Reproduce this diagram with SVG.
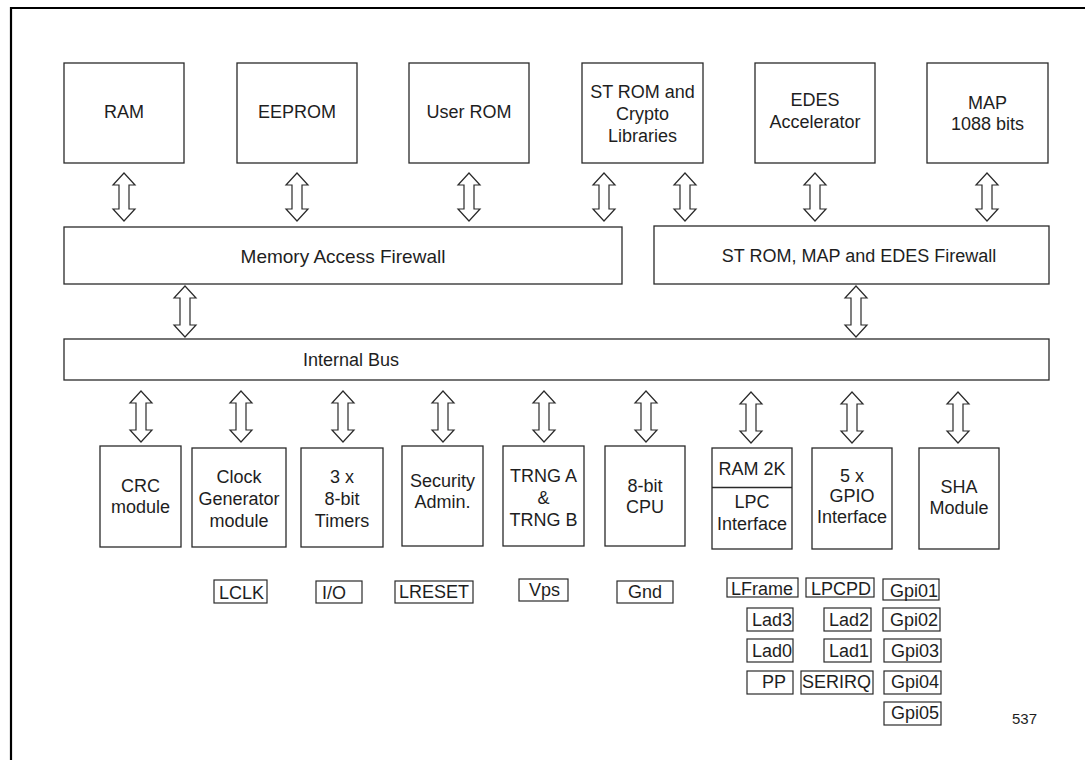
<svg xmlns="http://www.w3.org/2000/svg" width="1085" height="760" viewBox="0 0 1085 760">
<style>
.frame{fill:none;stroke:#000;stroke-width:2.2}
.box{fill:#fff;stroke:#2a2a2a;stroke-width:1.3}
.pin{fill:#fff;stroke:#2a2a2a;stroke-width:1.2}
.arr{fill:#fff;stroke:#2a2a2a;stroke-width:1.2;stroke-linejoin:miter}
text{font-family:"Liberation Sans",Arial,Helvetica,sans-serif;font-size:18px;fill:#1e1e1e}
.c{text-anchor:middle}
.small{font-size:15px}
</style>
<path class="frame" d="M11,760 V8 H1085"/>

<g id="ram"><rect class="box" x="64" y="63" width="120" height="100"/><text class="c" x="124" y="118">RAM</text></g>
<g id="eeprom"><rect class="box" x="237" y="63" width="120" height="100"/><text class="c" x="297" y="118">EEPROM</text></g>
<g id="userrom"><rect class="box" x="409" y="63" width="120" height="100"/><text class="c" x="469" y="118">User ROM</text></g>
<g id="strom"><rect class="box" x="582" y="63" width="121" height="100"/><text class="c" x="642.5" y="98">ST ROM and</text><text class="c" x="642.5" y="120">Crypto</text><text class="c" x="642.5" y="142">Libraries</text></g>
<g id="edes"><rect class="box" x="755" y="63" width="120" height="100"/><text class="c" x="815" y="106">EDES</text><text class="c" x="815" y="128">Accelerator</text></g>
<g id="map"><rect class="box" x="927" y="63" width="121" height="100"/><text class="c" x="987.5" y="109">MAP</text><text class="c" x="987.5" y="130">1088 bits</text></g>

<g id="maf"><rect class="box" x="64" y="227" width="558" height="57"/><text class="c" x="343" y="263" style="font-size:19px">Memory Access Firewall</text></g>
<g id="srf"><rect class="box" x="654" y="226" width="395" height="58"/><text class="c" x="859" y="262">ST ROM, MAP and EDES Firewall</text></g>
<g id="bus"><rect class="box" x="64" y="339" width="985" height="41"/><text x="303" y="366">Internal Bus</text></g>

<g id="crc"><rect class="box" x="100" y="446" width="81" height="101"/><text class="c" x="140.5" y="492">CRC</text><text class="c" x="140.5" y="513">module</text></g>
<g id="clock"><rect class="box" x="192" y="448" width="94" height="99"/><text class="c" x="239" y="483">Clock</text><text class="c" x="239" y="505">Generator</text><text class="c" x="239" y="527">module</text></g>
<g id="timers"><rect class="box" x="301" y="448" width="82" height="99"/><text class="c" x="342" y="483">3 x</text><text class="c" x="342" y="505">8-bit</text><text class="c" x="342" y="527">Timers</text></g>
<g id="security"><rect class="box" x="402" y="446" width="81" height="100"/><text class="c" x="442.5" y="487">Security</text><text class="c" x="442.5" y="508">Admin.</text></g>
<g id="trng"><rect class="box" x="503" y="446" width="81" height="100"/><text class="c" x="543.5" y="482">TRNG A</text><text class="c" x="543.5" y="504">&amp;</text><text class="c" x="543.5" y="526">TRNG B</text></g>
<g id="cpu"><rect class="box" x="605" y="446" width="80" height="100"/><text class="c" x="645" y="492">8-bit</text><text class="c" x="645" y="513">CPU</text></g>
<g id="lpc"><rect class="box" x="712" y="448" width="80" height="101"/><line x1="712" y1="487.5" x2="792" y2="487.5" stroke="#2a2a2a" stroke-width="1.3"/><text class="c" x="752" y="475">RAM 2K</text><text class="c" x="752" y="508">LPC</text><text class="c" x="752" y="530">Interface</text></g>
<g id="gpio"><rect class="box" x="812" y="448" width="80" height="101"/><text class="c" x="852" y="482">5 x</text><text class="c" x="852" y="502">GPIO</text><text class="c" x="852" y="523">Interface</text></g>
<g id="sha"><rect class="box" x="919" y="448" width="80" height="101"/><text class="c" x="959" y="493">SHA</text><text class="c" x="959" y="514">Module</text></g>

<g id="pins">
<rect class="pin" x="214" y="580" width="53" height="23"/><text x="219" y="599">LCLK</text>
<rect class="pin" x="316" y="581" width="46" height="22"/><text x="322" y="599">I/O</text>
<rect class="pin" x="395" y="581" width="78" height="22"/><text x="399" y="598">LRESET</text>
<rect class="pin" x="519" y="579" width="49" height="22"/><text x="529" y="596">Vps</text>
<rect class="pin" x="617" y="581" width="56" height="22"/><text x="628" y="598">Gnd</text>
<rect class="pin" x="727" y="578" width="71" height="19"/><text x="731" y="595">LFrame</text>
<rect class="pin" x="806" y="578" width="68" height="19"/><text x="811" y="595">LPCPD</text>
<rect class="pin" x="883" y="579" width="56" height="21"/><text x="890" y="597">Gpi01</text>
<rect class="pin" x="747" y="608" width="46" height="23"/><text x="752" y="626">Lad3</text>
<rect class="pin" x="824" y="608" width="47" height="23"/><text x="829" y="626">Lad2</text>
<rect class="pin" x="883" y="608" width="57" height="23"/><text x="890" y="626">Gpi02</text>
<rect class="pin" x="747" y="639" width="46" height="23"/><text x="752" y="657">Lad0</text>
<rect class="pin" x="824" y="639" width="47" height="23"/><text x="829" y="657">Lad1</text>
<rect class="pin" x="884" y="639" width="57" height="23"/><text x="891" y="657">Gpi03</text>
<rect class="pin" x="747" y="671" width="46" height="23"/><text x="762" y="688">PP</text>
<rect class="pin" x="801" y="671" width="72" height="23"/><text x="802" y="688">SERIRQ</text>
<rect class="pin" x="884" y="671" width="57" height="23"/><text x="891" y="688">Gpi04</text>
<rect class="pin" x="884" y="702" width="57" height="23"/><text x="891" y="719">Gpi05</text>
</g>
<text class="small" x="1012" y="724">537</text>

<g id="connectors">
<path class="arr" d="M124,173 l11,12 h-6 v24 h6 l-11,12 l-11,-12 h6 v-24 h-6 z"/>
<path class="arr" d="M297,173 l11,12 h-6 v24 h6 l-11,12 l-11,-12 h6 v-24 h-6 z"/>
<path class="arr" d="M469,173 l11,12 h-6 v24 h6 l-11,12 l-11,-12 h6 v-24 h-6 z"/>
<path class="arr" d="M604,173 l11,12 h-6 v24 h6 l-11,12 l-11,-12 h6 v-24 h-6 z"/>
<path class="arr" d="M685,173 l11,12 h-6 v24 h6 l-11,12 l-11,-12 h6 v-24 h-6 z"/>
<path class="arr" d="M815,173 l11,12 h-6 v24 h6 l-11,12 l-11,-12 h6 v-24 h-6 z"/>
<path class="arr" d="M987,173 l11,12 h-6 v24 h6 l-11,12 l-11,-12 h6 v-24 h-6 z"/>
<path class="arr" d="M185,286 l11,12 h-6 v27 h6 l-11,12 l-11,-12 h6 v-27 h-6 z"/>
<path class="arr" d="M856,286 l11,12 h-6 v27 h6 l-11,12 l-11,-12 h6 v-27 h-6 z"/>
<path class="arr" d="M141,391 l11,12 h-6 v27 h6 l-11,12 l-11,-12 h6 v-27 h-6 z"/>
<path class="arr" d="M241,391 l11,12 h-6 v27 h6 l-11,12 l-11,-12 h6 v-27 h-6 z"/>
<path class="arr" d="M343,391 l11,12 h-6 v27 h6 l-11,12 l-11,-12 h6 v-27 h-6 z"/>
<path class="arr" d="M443,391 l11,12 h-6 v27 h6 l-11,12 l-11,-12 h6 v-27 h-6 z"/>
<path class="arr" d="M544,391 l11,12 h-6 v27 h6 l-11,12 l-11,-12 h6 v-27 h-6 z"/>
<path class="arr" d="M646,391 l11,12 h-6 v27 h6 l-11,12 l-11,-12 h6 v-27 h-6 z"/>
<path class="arr" d="M751,392 l11,12 h-6 v27 h6 l-11,12 l-11,-12 h6 v-27 h-6 z"/>
<path class="arr" d="M852,392 l11,12 h-6 v27 h6 l-11,12 l-11,-12 h6 v-27 h-6 z"/>
<path class="arr" d="M958,392 l11,12 h-6 v27 h6 l-11,12 l-11,-12 h6 v-27 h-6 z"/>
</g>
</svg>
